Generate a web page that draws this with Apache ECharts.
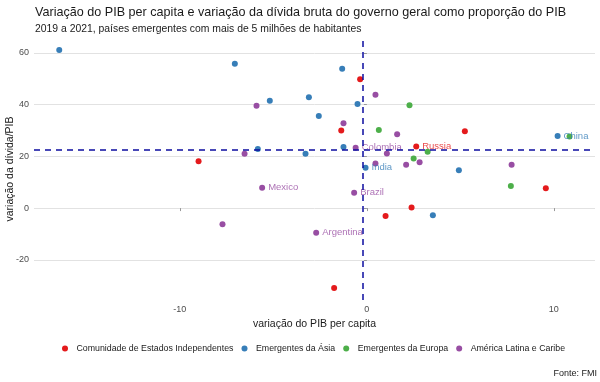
<!DOCTYPE html>
<html><head><meta charset="utf-8">
<script src="https://cdn.jsdelivr.net/npm/echarts@6/dist/echarts.min.js"></script>
<style>html,body{margin:0;padding:0;background:#fff}#c{width:600px;height:382px}</style>
</head><body><div id="c"></div>
<script>
// ---- data (x: variação do PIB per capita, y: variação da dívida/PIB) ----
const groupNames = ['Comunidade de Estados Independentes', 'Emergentes da Ásia', 'Emergentes da Europa', 'América Latina e Caribe'];
const groupColors = ['#E41A1C', '#377EB8', '#4DAF4A', '#984EA3'];
const cis = [[-9.0,18.1],[-0.36,49.8],[-1.37,30.0],[5.24,29.7],[2.64,23.8,'Russia'],[1.0,-3.1],[-1.75,-30.9],[9.57,7.7],[2.39,0.2]];
const asia = [[-16.45,61.1],[-7.06,55.8],[-5.19,41.5],[-3.1,42.8],[-2.57,35.6],[-1.32,53.8],[-0.5,40.2],[-5.83,22.8],[-3.28,21.0],[-1.25,23.6],[-0.07,15.6,'India'],[4.92,14.6],[10.2,27.8,'China'],[3.53,-2.8]];
const europe = [[0.64,30.2],[2.28,39.7],[2.5,19.2],[3.25,21.8],[10.84,27.7],[7.7,8.5]];
const latam = [[-5.9,39.5],[0.46,43.8],[-1.25,32.8],[1.62,28.5],[-6.54,21.0],[-0.6,23.3,'Colombia'],[1.07,21.1],[0.46,17.2],[2.1,16.7],[2.82,17.7],[7.74,16.7],[-5.6,7.9,'Mexico'],[-0.68,5.9,'Brazil'],[-7.72,-6.2],[-2.71,-9.5,'Argentina']];
const xTicks = [-10, 0, 10];
const yTicks = [-20, 0, 20, 40, 60];
const refX = -0.22;
const refY = 22.5;
const xRange = [-17.8, 12.2];
const yRange = [-35.5, 65.7];

const FONT = '"Liberation Sans", Arial, sans-serif';
const groups = [cis, asia, europe, latam];

function toData(arr) {
  return arr.map(p => {
    const d = { value: [p[0], p[1]] };
    if (p[2]) {
      d.name = p[2];
      d.label = { show: true, formatter: p[2] };
    }
    return d;
  });
}

const series = groups.map((g, i) => ({
  name: groupNames[i],
  type: 'scatter',
  z: 3,
  symbolSize: 6,
  itemStyle: { color: groupColors[i], opacity: 1 },
  label: { show: false, position: 'right', distance: 3, fontSize: 9.5, fontFamily: FONT, color: groupColors[i], opacity: 0.8 },
  emphasis: { disabled: true },
  data: toData(g)
}));

series.push({
  type: 'scatter', z: 1, data: [], silent: true,
  markLine: {
    silent: true, symbol: 'none', animation: false,
    label: { show: false },
    lineStyle: { color: '#0C0CA0', width: 1.5, type: [6, 5] },
    data: [{ xAxis: refX }, { yAxis: refY }]
  }
});

const chart = echarts.init(document.getElementById('c'), null, { renderer: 'canvas' });
chart.setOption({
  animation: false,
  backgroundColor: '#fff',
  title: [
    { text: 'Variação do PIB per capita e variação da dívida bruta do governo geral como proporção do PIB', left: 35, top: 6, padding: 0,
      textStyle: { fontFamily: FONT, fontSize: 12.6, fontWeight: 'normal', color: '#1a1a1a' } },
    { text: '2019 a 2021, países emergentes com mais de 5 milhões de habitantes', left: 35, top: 24, padding: 0,
      textStyle: { fontFamily: FONT, fontSize: 10.4, fontWeight: 'normal', color: '#1a1a1a' } }
  ],
  grid: { left: 34, right: 5, top: 38, bottom: 82, containLabel: false, outerBoundsMode: 'none' },
  xAxis: {
    type: 'value', min: xRange[0], max: xRange[1],
    name: 'variação do PIB per capita', nameLocation: 'middle', nameGap: 19, nameMoveOverlap: false,
    nameTextStyle: { fontFamily: FONT, fontSize: 10.5, color: '#1a1a1a' },
    axisLine: { show: false },
    axisTick: { show: true, customValues: xTicks, length: 3, lineStyle: { color: '#999' } },
    axisLabel: { customValues: xTicks, fontFamily: FONT, fontSize: 9, color: '#4D4D4D', margin: 5 },
    splitLine: { show: false }
  },
  yAxis: {
    type: 'value', min: yRange[0], max: yRange[1],
    name: 'variação da dívida/PIB', nameLocation: 'middle', nameGap: 18, nameMoveOverlap: false,
    nameTextStyle: { fontFamily: FONT, fontSize: 10.5, color: '#1a1a1a' },
    axisLine: { show: false },
    axisTick: { show: true, customValues: yTicks, length: 3, lineStyle: { color: '#999' } },
    axisLabel: { customValues: yTicks, fontFamily: FONT, fontSize: 9, color: '#4D4D4D', margin: 5 },
    splitLine: { show: true, lineStyle: { color: '#E2E2E2', width: 1 } }
  },
  legend: {
    data: groupNames, left: 62, top: 344, icon: 'circle', itemWidth: 13, itemHeight: 6, symbolKeepAspect: true,
    itemGap: 8, padding: 0,
    textStyle: { fontFamily: FONT, fontSize: 8.8, color: '#1a1a1a' }
  },
  graphic: [{
    type: 'text', right: 3, top: 369,
    style: { text: 'Fonte: FMI', font: '9px ' + FONT, fill: '#1a1a1a' }
  }],
  series: series
});
</script>
</body></html>
